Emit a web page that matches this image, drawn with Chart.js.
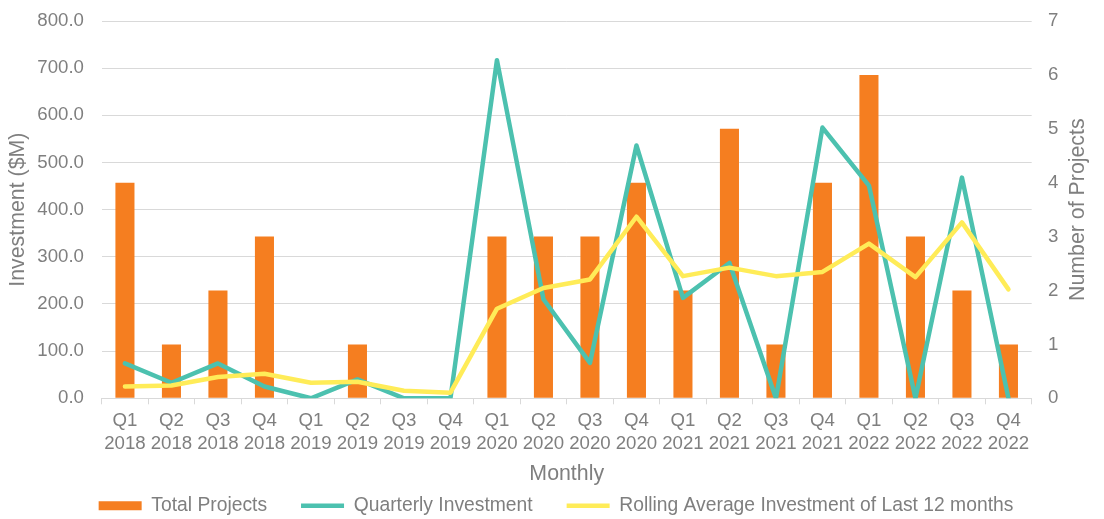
<!DOCTYPE html>
<html>
<head>
<meta charset="utf-8">
<script src="https://cdn.jsdelivr.net/npm/chart.js@4.4.1/dist/chart.umd.min.js"></script>
<style>
  html, body { margin: 0; padding: 0; background: #fff; }
  #wrap { width: 1104px; height: 519px; position: relative; }
</style>
</head>
<body>
<div id="wrap"><canvas id="investChart"></canvas></div>
<script>
// --- data ---
const quarters = [
    ['Q1', '2018'], ['Q2', '2018'], ['Q3', '2018'], ['Q4', '2018'],
    ['Q1', '2019'], ['Q2', '2019'], ['Q3', '2019'], ['Q4', '2019'],
    ['Q1', '2020'], ['Q2', '2020'], ['Q3', '2020'], ['Q4', '2020'],
    ['Q1', '2021'], ['Q2', '2021'], ['Q3', '2021'], ['Q4', '2021'],
    ['Q1', '2022'], ['Q2', '2022'], ['Q3', '2022'], ['Q4', '2022']
];
const totalProjects = [4, 1, 2, 3, 0, 1, 0, 0, 3, 3, 3, 4, 2, 5, 1, 4, 6, 3, 2, 1];
const quarterlyInvestment = [74, 33, 74, 25, 0, 40, 0, 0, 717, 210, 75, 536, 213, 287, 0, 574, 451, 0, 468, 0];
const rollingAverage = [25, 27, 45, 52, 33, 35, 16, 12, 190, 234, 252, 385, 259, 277, 259, 268, 328, 257, 373, 231];

const investTicks = { min: 0, max: 800, step: 100 };
const projectTicks = { min: 0, max: 7, step: 1 };

const GREY = '#7f7f7f';
const GRID = '#d9d9d9';
const FONT = "'Liberation Sans', Arial, sans-serif";

// right axis title reads bottom-to-top, so draw it ourselves
const rightTitle = {
    id: 'rightTitle',
    afterLayout(chart) {
        // legend sits a bit right of centre in the original
        chart.legend.left += 4;
        chart.legend.right += 4;
    },
    afterDraw(chart) {
        const { ctx, chartArea } = chart;
        const x = chart.scales.y1.right - 26;
        ctx.save();
        ctx.translate(x, (chartArea.top + chartArea.bottom) / 2);
        ctx.rotate(-Math.PI / 2);
        ctx.font = '21.33px ' + FONT;
        ctx.fillStyle = GREY;
        ctx.textAlign = 'center';
        ctx.textBaseline = 'middle';
        ctx.fillText('Number of Projects', 0, 0);
        ctx.restore();
    }
};

const ctx = document.getElementById('investChart').getContext('2d');
new Chart(ctx, {
    data: {
        labels: quarters,
        datasets: [
            {
                type: 'bar',
                label: 'Total Projects',
                data: totalProjects,
                yAxisID: 'y1',
                backgroundColor: '#F57E20',
                borderWidth: 0,
                barPercentage: 0.41,
                categoryPercentage: 1,
                pointStyle: 'rect',
                order: 3
            },
            {
                type: 'line',
                label: 'Quarterly Investment',
                data: quarterlyInvestment,
                yAxisID: 'y',
                borderColor: '#4CC1AF',
                backgroundColor: '#4CC1AF',
                borderWidth: 4.5,
                borderCapStyle: 'round',
                borderJoinStyle: 'round',
                pointRadius: 0,
                pointStyle: 'line',
                tension: 0,
                order: 2
            },
            {
                type: 'line',
                label: 'Rolling Average Investment of Last 12 months',
                data: rollingAverage,
                yAxisID: 'y',
                borderColor: '#FFEC58',
                backgroundColor: '#FFEC58',
                borderWidth: 4.5,
                borderCapStyle: 'round',
                borderJoinStyle: 'round',
                pointRadius: 0,
                pointStyle: 'line',
                tension: 0,
                order: 1
            }
        ]
    },
    options: {
        responsive: true,
        maintainAspectRatio: false,
        animation: false,
        layout: { padding: { top: 21, left: 0, right: 0, bottom: -6.3 } },
        plugins: {
            tooltip: { enabled: false },
            legend: {
                position: 'bottom',
                labels: {
                    usePointStyle: true,
                    pointStyleWidth: 43,
                    boxHeight: 9,
                    padding: 34,
                    color: GREY,
                    font: { family: FONT, size: 19.3 },
                    sort: (a, b) => a.datasetIndex - b.datasetIndex
                }
            }
        },
        scales: {
            x: {
                offset: true,
                grid: { display: true, drawOnChartArea: false, drawTicks: true, tickLength: 6, color: GRID },
                border: { display: true, color: GRID },
                ticks: {
                    color: GREY,
                    padding: 5,
                    maxRotation: 0,
                    autoSkip: false,
                    font: { family: FONT, size: 18.67, lineHeight: 1.25 }
                },
                title: {
                    display: true,
                    text: 'Monthly',
                    color: GREY,
                    font: { family: FONT, size: 21.33, lineHeight: 1.2 },
                    padding: { top: 0, bottom: -24.5 }
                },
                afterFit: (scale) => { scale.height = 63.7; }
            },
            y: {
                position: 'left',
                min: investTicks.min,
                max: investTicks.max,
                grid: { color: GRID, drawTicks: false },
                border: { display: false },
                ticks: {
                    stepSize: investTicks.step,
                    padding: 17.7,
                    color: GREY,
                    font: { family: FONT, size: 18.67 },
                    callback: (v) => v.toFixed(1)
                },
                title: {
                    display: true,
                    text: 'Investment ($M)',
                    color: GREY,
                    font: { family: FONT, size: 21.33, lineHeight: 1.2 },
                    padding: { top: 5.2, bottom: 0 }
                },
                afterFit: (scale) => {
                    scale.width = 101.7;
                    scale.paddingTop = 0;
                }
            },
            y1: {
                position: 'right',
                min: projectTicks.min,
                max: projectTicks.max,
                grid: { drawOnChartArea: false, drawTicks: false },
                border: { display: false },
                ticks: {
                    stepSize: projectTicks.step,
                    padding: 16.3,
                    color: GREY,
                    font: { family: FONT, size: 18.67 }
                },
                afterFit: (scale) => {
                    scale.width = 1104 - 1031.7;
                    scale.paddingTop = 0;
                }
            }
        }
    },
    plugins: [rightTitle]
});
</script>
</body>
</html>
